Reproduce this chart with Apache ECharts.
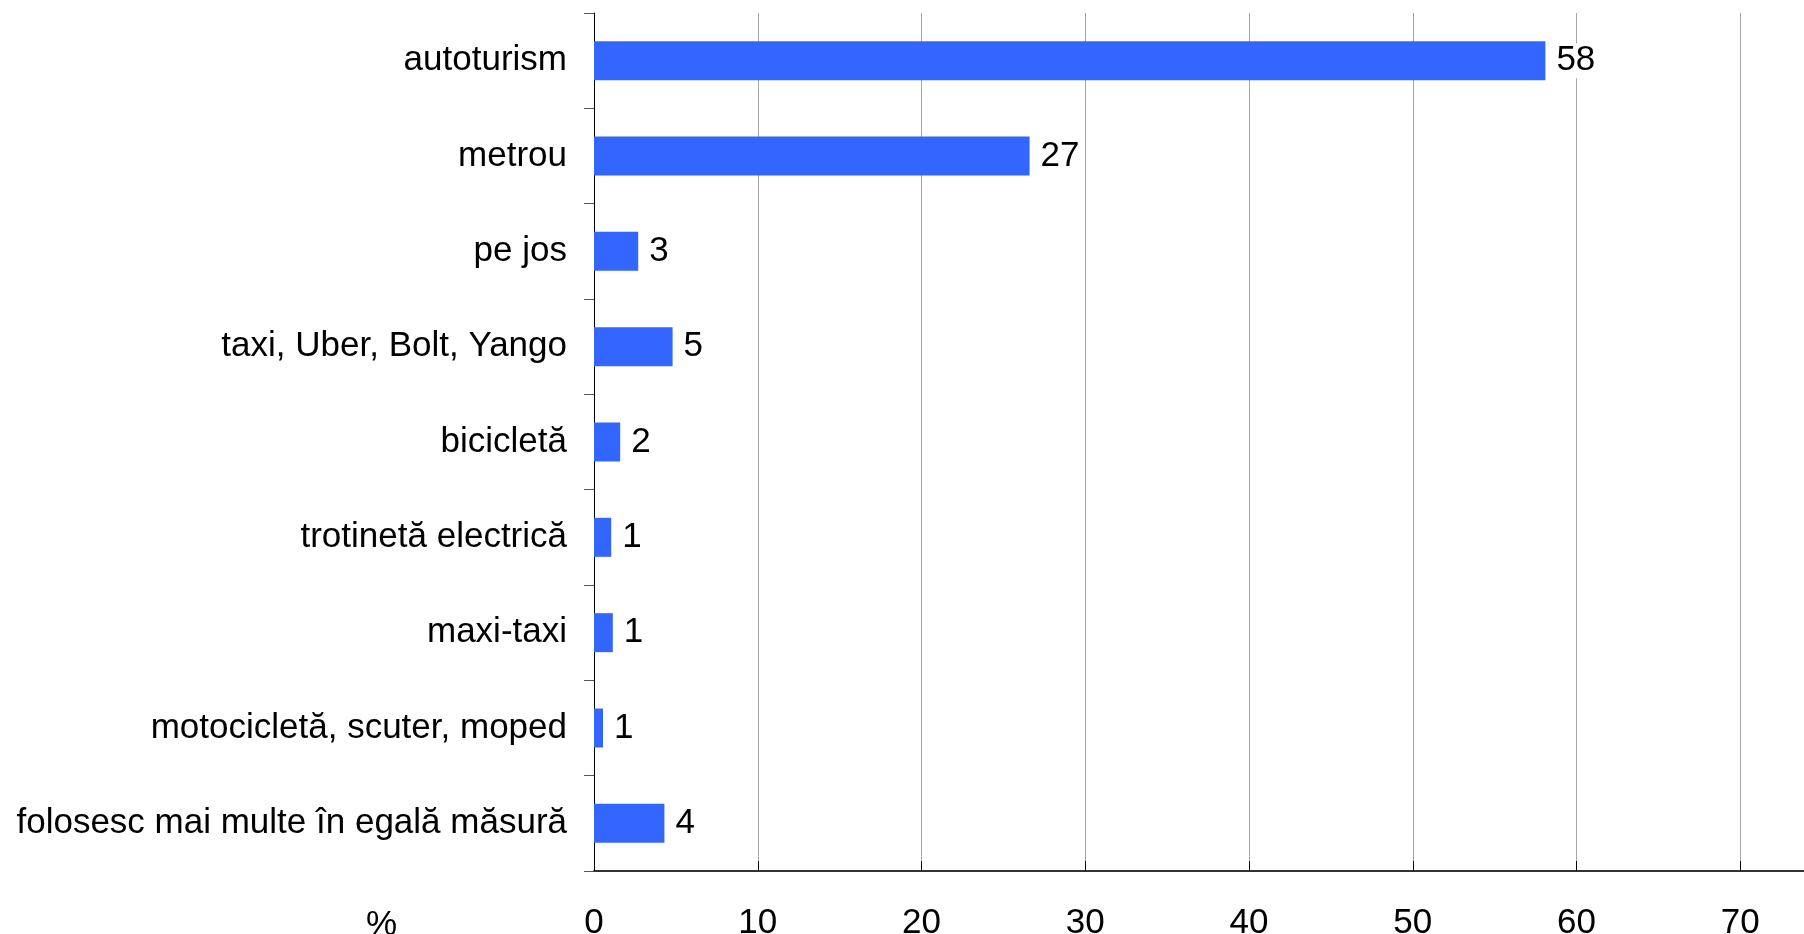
<!DOCTYPE html>
<html>
<head>
<meta charset="utf-8">
<script src="https://cdn.jsdelivr.net/npm/echarts@6/dist/echarts.min.js"></script>
<style>
html,body{margin:0;padding:0;background:#fff;overflow:hidden;}
#wrap{width:1804px;height:934px;overflow:hidden;}
#chart{width:1904px;height:934px;}
</style>
</head>
<body>
<div id="wrap"><div id="chart"></div></div>
<script>
const categories = [
  "autoturism",
  "metrou",
  "pe jos",
  "taxi, Uber, Bolt, Yango",
  "bicicletă",
  "trotinetă electrică",
  "maxi-taxi",
  "motocicletă, scuter, moped",
  "folosesc mai multe în egală măsură"
];
const values = [58.1, 26.6, 2.7, 4.8, 1.6, 1.05, 1.15, 0.55, 4.3];
const valueLabels = [58, 27, 3, 5, 2, 1, 1, 1, 4];
const xTicks = [0, 10, 20, 30, 40, 50, 60, 70, 80];

const FONT = "'Liberation Sans', Arial, sans-serif";
const chart = echarts.init(document.getElementById('chart'), null, {renderer: 'canvas'});
chart.setOption({
  animation: false,
  backgroundColor: '#ffffff',
  grid: {left: 594, top: 13, width: 1310, height: 858, containLabel: false, outerBoundsMode: 'none'},
  xAxis: {
    type: 'value',
    min: xTicks[0],
    max: xTicks[xTicks.length - 1],
    interval: xTicks[1] - xTicks[0],
    axisLine: {show: true, lineStyle: {color: '#333333', width: 2}},
    axisTick: {show: true, inside: true, length: 10, lineStyle: {color: '#000000', width: 1}},
    splitLine: {show: true, lineStyle: {color: '#a6a6a6', width: 1}},
    axisLabel: {color: '#000', fontFamily: FONT, fontSize: 35, margin: 35}
  },
  yAxis: {
    type: 'category',
    data: categories,
    inverse: true,
    axisLine: {show: true, lineStyle: {color: '#000000', width: 1}},
    axisTick: {show: true, length: 10, lineStyle: {color: '#555555'}},
    axisLabel: {color: '#000', fontFamily: FONT, fontSize: 35, margin: 27}
  },
  graphic: [{
    type: 'text',
    left: 366,
    top: 908,
    style: {text: '%', fill: '#000', font: '35px ' + FONT}
  }],
  series: [{
    type: 'bar',
    data: values,
    barWidth: 39,
    itemStyle: {color: '#3366ff'},
    label: {
      show: true,
      position: 'right',
      distance: 7,
      color: '#000',
      fontFamily: FONT,
      fontSize: 35,
      backgroundColor: '#ffffff',
      padding: [0, 4],
      formatter: p => String(valueLabels[p.dataIndex])
    }
  }]
});
</script>
</body>
</html>
